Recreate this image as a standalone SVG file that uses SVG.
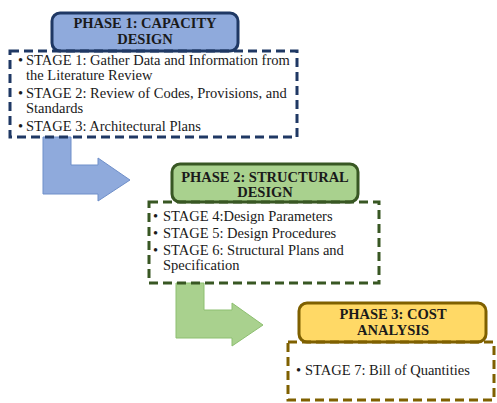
<svg xmlns="http://www.w3.org/2000/svg" width="497" height="403" viewBox="0 0 497 403">
<style>
text{font-family:"Liberation Serif","Times New Roman",serif;font-size:14.5px;fill:#1a1a1a}
.h{font-weight:bold;text-anchor:middle}
.dash{fill:none;stroke-width:3;stroke-dasharray:9 5}
.hb{stroke-width:3}
</style>
<rect width="497" height="403" fill="#ffffff"/>
<g id="connectors">
<path d="M43,137 L71,137 L71,165 L98,165 L98,158 L130,180 L98,201 L98,194 L43,194 Z" fill="#8FAADC" stroke="#6F8FC9" stroke-width="1"/>
<path d="M176,283 L204,283 L204,310 L232,310 L232,303 L263,325 L232,346 L232,338 L176,338 Z" fill="#A9D18E" stroke="#8DBF70" stroke-width="1"/>
</g>
<g id="phase1">
<rect class="hb" x="52" y="13" width="186" height="38" rx="8" fill="#8FAADC" stroke="#1F3864"/>
<text class="h" x="145" y="28">PHASE 1: CAPACITY</text>
<text class="h" x="145" y="44">DESIGN</text>
<rect class="dash" x="10" y="51" width="287" height="86" stroke="#1F3864"/>
<text x="18" y="65">•</text><text x="26" y="65">STAGE 1: Gather Data and Information from</text>
<text x="26" y="80">the Literature Review</text>
<text x="18" y="98">•</text><text x="26" y="98">STAGE 2: Review of Codes, Provisions, and</text>
<text x="26" y="113">Standards</text>
<text x="18" y="131">•</text><text x="26" y="131">STAGE 3: Architectural Plans</text>
</g>
<g id="phase2">
<rect class="hb" x="172" y="164" width="186" height="38" rx="8" fill="#A9D18E" stroke="#385723"/>
<text class="h" x="265" y="182">PHASE 2: STRUCTURAL</text>
<text class="h" x="265" y="197">DESIGN</text>
<rect class="dash" x="149" y="202" width="230" height="81" stroke="#385723"/>
<text x="153" y="221">•</text><text x="163" y="221">STAGE 4:Design Parameters</text>
<text x="153" y="238">•</text><text x="163" y="238">STAGE 5: Design Procedures</text>
<text x="153" y="255">•</text><text x="163" y="255">STAGE 6: Structural Plans and</text>
<text x="163" y="270">Specification</text>
</g>
<g id="phase3">
<rect class="hb" x="299" y="303" width="187" height="39" rx="8" fill="#FFD966" stroke="#7F6000"/>
<text class="h" x="393" y="319">PHASE 3: COST</text>
<text class="h" x="393" y="335">ANALYSIS</text>
<rect class="dash" x="288" y="342" width="206" height="58" stroke="#7F6000"/>
<text x="296" y="375">•</text><text x="305" y="375">STAGE 7: Bill of Quantities</text>
</g>
</svg>
